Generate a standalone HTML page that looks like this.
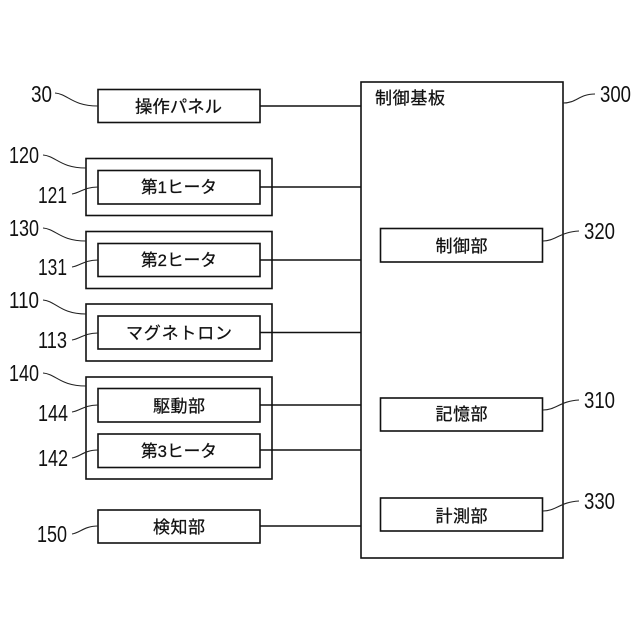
<!DOCTYPE html>
<html lang="ja">
<head>
<meta charset="utf-8">
<style>
html,body{margin:0;padding:0;background:#fff;}
svg{display:block;}
.b{fill:#fff;stroke:#111;stroke-width:1.6;}
.l{fill:none;stroke:#111;stroke-width:1.4;}
.c{fill:none;stroke:#222;stroke-width:1.1;}
text{font-family:"Liberation Sans","Noto Sans CJK JP",sans-serif;fill:#111;}
.t{font-size:17px;stroke:#111;stroke-width:.25;}
.n{font-size:23px;}
</style>
</head>
<body>
<svg width="640" height="640" viewBox="0 0 640 640" xmlns="http://www.w3.org/2000/svg">
<rect x="361" y="82" width="202" height="476" class="b"/>
<rect x="98" y="89.5" width="162" height="33" class="b"/>
<rect x="86" y="158.5" width="186" height="57" class="b"/>
<rect x="98" y="170.5" width="162" height="33.5" class="b"/>
<rect x="86" y="231.5" width="186" height="57" class="b"/>
<rect x="98" y="243.5" width="162" height="33" class="b"/>
<rect x="86" y="304" width="186" height="57" class="b"/>
<rect x="98" y="316" width="162" height="33" class="b"/>
<rect x="86" y="377" width="186" height="102" class="b"/>
<rect x="98" y="388.5" width="162" height="33.5" class="b"/>
<rect x="98" y="434" width="162" height="33.5" class="b"/>
<rect x="98" y="510" width="162" height="33" class="b"/>
<rect x="380.5" y="228.5" width="162" height="33.5" class="b"/>
<rect x="380.5" y="398" width="162" height="33" class="b"/>
<rect x="380.5" y="498" width="162" height="33" class="b"/>

<path class="l" d="M260 106H361M260 187H361M260 260H361M260 332.500H361M260 405H361M260 450H361M260 526H361"/>

<path class="c" d="M55 93C68 94 72 106 98 106"/>
<path class="c" d="M43 155C56 156 60 168 86 168"/>
<path class="c" d="M72 194C80 193 84 187 98 187"/>
<path class="c" d="M43 228C56 229 60 241 86 241"/>
<path class="c" d="M72 267C80 266 84 260 98 260"/>
<path class="c" d="M43 300C56 301 60 314 86 314"/>
<path class="c" d="M72 340C80 339 84 333 98 333"/>
<path class="c" d="M43 373C56 374 60 386 86 386"/>
<path class="c" d="M72 412C80 411 84 405 98 405"/>
<path class="c" d="M72 458C80 457 84 450 98 450"/>
<path class="c" d="M72 534C80 533 84 526 98 526"/>
<path class="c" d="M563 103C577 103 579 94 595 94"/>
<path class="c" d="M543 241C555 241 560 232 579 231"/>
<path class="c" d="M543 410C556 410 560 401 579 400"/>
<path class="c" d="M543 511C556 511 560 502 579 501"/>

<text class="t" x="135" y="112.500" textLength="87" lengthAdjust="spacingAndGlyphs">操作パネル</text>
<text class="t" x="141" y="193" textLength="76" lengthAdjust="spacingAndGlyphs">第1ヒータ</text>
<text class="t" x="141" y="266" textLength="76" lengthAdjust="spacingAndGlyphs">第2ヒータ</text>
<text class="t" x="126" y="339" textLength="106" lengthAdjust="spacing">マグネトロン</text>
<text class="t" x="153" y="412" textLength="52" lengthAdjust="spacing">駆動部</text>
<text class="t" x="141" y="457" textLength="76" lengthAdjust="spacingAndGlyphs">第3ヒータ</text>
<text class="t" x="153" y="533" textLength="52" lengthAdjust="spacing">検知部</text>
<text class="t" x="375" y="104" textLength="70" lengthAdjust="spacing">制御基板</text>
<text class="t" x="435.500" y="252" textLength="52" lengthAdjust="spacing">制御部</text>
<text class="t" x="435.500" y="420" textLength="52" lengthAdjust="spacing">記憶部</text>
<text class="t" x="435.500" y="522" textLength="52" lengthAdjust="spacing">計測部</text>

<text class="n" x="31" y="102" textLength="21" lengthAdjust="spacingAndGlyphs">30</text>
<text class="n" x="9" y="163" textLength="30" lengthAdjust="spacingAndGlyphs">120</text>
<text class="n" x="38" y="203" textLength="29" lengthAdjust="spacingAndGlyphs">121</text>
<text class="n" x="9" y="236" textLength="30" lengthAdjust="spacingAndGlyphs">130</text>
<text class="n" x="38" y="275" textLength="29" lengthAdjust="spacingAndGlyphs">131</text>
<text class="n" x="9" y="308" textLength="30" lengthAdjust="spacingAndGlyphs">110</text>
<text class="n" x="38" y="348" textLength="29" lengthAdjust="spacingAndGlyphs">113</text>
<text class="n" x="9" y="381" textLength="30" lengthAdjust="spacingAndGlyphs">140</text>
<text class="n" x="38" y="421" textLength="30" lengthAdjust="spacingAndGlyphs">144</text>
<text class="n" x="38" y="466" textLength="30" lengthAdjust="spacingAndGlyphs">142</text>
<text class="n" x="37" y="542" textLength="30" lengthAdjust="spacingAndGlyphs">150</text>
<text class="n" x="600" y="102" textLength="31" lengthAdjust="spacingAndGlyphs">300</text>
<text class="n" x="584" y="239" textLength="31" lengthAdjust="spacingAndGlyphs">320</text>
<text class="n" x="584" y="408" textLength="31" lengthAdjust="spacingAndGlyphs">310</text>
<text class="n" x="584" y="509" textLength="31" lengthAdjust="spacingAndGlyphs">330</text>
</svg>
</body>
</html>
